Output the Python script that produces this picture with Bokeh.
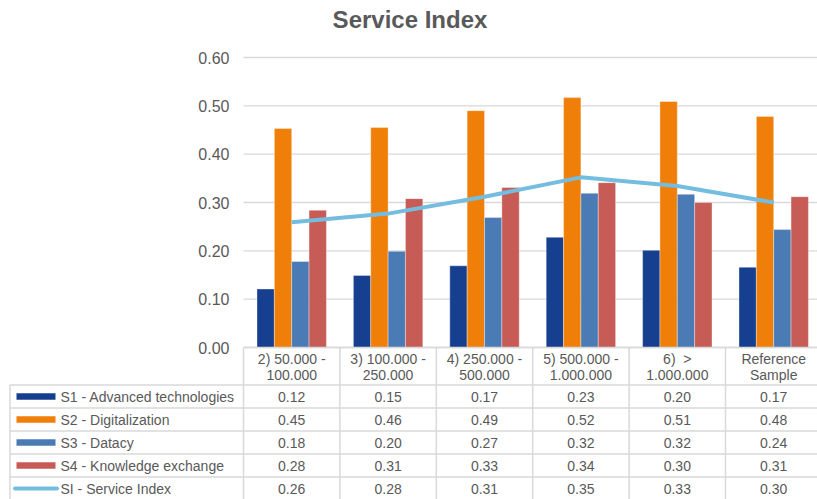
import numpy as np
from bokeh.plotting import figure
from bokeh.models import Range1d, ColumnDataSource
from bokeh.embed import file_html
from bokeh.resources import INLINE
from bokeh.core.properties import value

# ---------------- data ----------------
categories = ["2) 50.000 - 100.000", "3) 100.000 - 250.000", "4) 250.000 - 500.000",
              "5) 500.000 - 1.000.000", "6) > 1.000.000", "Reference Sample"]
category_labels = ["2) 50.000 -\n100.000", "3) 100.000 -\n250.000", "4) 250.000 -\n500.000",
                   "5) 500.000 -\n1.000.000", "6)\u00a0 >\n1.000.000", "Reference\nSample"]
s1 = [0.121, 0.149, 0.169, 0.228, 0.201, 0.166]
s2 = [0.453, 0.455, 0.490, 0.517, 0.509, 0.478]
s3 = [0.178, 0.199, 0.269, 0.319, 0.317, 0.244]
s4 = [0.284, 0.308, 0.331, 0.341, 0.300, 0.312]
si = [0.259, 0.277, 0.312, 0.352, 0.334, 0.300]
series_names = ["S1 - Advanced technologies", "S2 - Digitalization", "S3 - Datacy",
                "S4 - Knowledge exchange", "SI - Service Index"]
y_ticks = [0.0, 0.1, 0.2, 0.3, 0.4, 0.5, 0.6]
y_max = 0.6
title_text = "Service Index"

# ---------------- layout / styles ----------------
W, H = 817, 499
FONT = value("Liberation Sans")
TXT = "#595959"
GRID = "#d9d9d9"
colors = ["#173f8f", "#f07f09", "#4a7bb5", "#c75b55", "#75bddf"]
offsets = [-0.27, -0.09, 0.09, 0.27]
bar_w = 0.18
PL, PT, PB = 243.0, 57.0, 347.0        # plot area left / top / bottom (px)
colw = 96.4                            # px per category
ppu = (PB - PT) / y_max                # px per value unit
HEAD_B = 384.5                         # bottom of header row
row_h = 23

p = figure(width=W, height=H, x_range=Range1d(0, W), y_range=Range1d(H, 0),
           x_axis_type=None, y_axis_type=None, min_border=0, output_backend="svg",
           toolbar_location=None, outline_line_color=None)
p.background_fill_color = "white"
# category / value scales mapped onto the plot area
p.extra_x_ranges = {"cat": Range1d(-PL / colw, (W - PL) / colw)}
p.extra_y_ranges = {"val": Range1d(-(H - PB) / ppu, PB / ppu)}

n = len(categories)
idx = np.arange(n) + 0.5

# title
p.text(x=[409.5], y=[19], text=[title_text], text_font=FONT, text_font_size="24px",
       text_font_style="bold", text_color=TXT, text_align="center", text_baseline="middle")

# gridlines and y tick labels
p.segment(x0=[0] * len(y_ticks), x1=[n] * len(y_ticks), y0=y_ticks, y1=y_ticks,
          x_range_name="cat", y_range_name="val", line_color=GRID, line_width=1.3)
p.text(x=[-14 / colw] * len(y_ticks), y=y_ticks, text=[f"{t:.2f}" for t in y_ticks],
       x_range_name="cat", y_range_name="val", text_font=FONT, text_font_size="16px",
       text_color=TXT, text_align="right", text_baseline="middle")

# bars + line
src = ColumnDataSource(dict(x=idx, s1=s1, s2=s2, s3=s3, s4=s4, si=si))
for k, key in enumerate(["s1", "s2", "s3", "s4"]):
    p.vbar(x=idx + offsets[k], top=[v for v in src.data[key]], bottom=0, width=bar_w,
           x_range_name="cat", y_range_name="val", fill_color=colors[k],
           line_color="white", line_alpha=0.35, line_width=1)
p.line(x="x", y="si", source=src, x_range_name="cat", y_range_name="val",
       line_color=colors[4], line_width=4, line_join="round")

# ---------------- data table ----------------
# header row top border and column separators
p.segment(x0=[0], x1=[n], y0=[PB], y1=[PB], x_range_name="cat",
          line_color=GRID, line_width=1.5)
p.segment(x0=list(range(n + 1)), x1=list(range(n + 1)), y0=[PB] * (n + 1), y1=[H] * (n + 1),
          x_range_name="cat", line_color=GRID, line_width=1.5)
hy = [HEAD_B + k * row_h for k in range(len(series_names))]
p.segment(x0=[9.5] * len(hy), x1=[W] * len(hy), y0=hy, y1=hy, line_color=GRID, line_width=1.5)
p.segment(x0=[9.5], x1=[9.5], y0=[HEAD_B], y1=[H], line_color=GRID, line_width=1.5)

# header labels (two lines)
first = [lab.split("\n")[0] for lab in category_labels]
second = [lab.split("\n")[1] for lab in category_labels]
p.text(x=idx, y=[358] * n, text=first, x_range_name="cat", text_font=FONT,
       text_font_size="14px", text_color=TXT, text_align="center", text_baseline="middle")
p.text(x=idx, y=[374] * n, text=second, x_range_name="cat", text_font=FONT,
       text_font_size="14px", text_color=TXT, text_align="center", text_baseline="middle")

row_c = [HEAD_B + (k + 0.5) * row_h for k in range(len(series_names))]
p.text(x=[60] * len(series_names), y=row_c, text=series_names, text_font=FONT,
       text_font_size="14px", text_color=TXT, text_align="left", text_baseline="middle")
for k in range(4):
    p.quad(left=[16], right=[55], top=[row_c[k] - 3.3], bottom=[row_c[k] + 3.3],
           fill_color=colors[k], line_color=None)
p.line(x=[14.5, 56.5], y=[row_c[4], row_c[4]], line_color=colors[4], line_width=4,
       line_cap="round")

all_series = [s1, s2, s3, s4, si]
vx, vy, vt = [], [], []
for k, ser in enumerate(all_series):
    for i, v in enumerate(ser):
        vx.append(idx[i])
        vy.append(row_c[k])
        vt.append(f"{v:.2f}")
p.text(x=vx, y=vy, text=vt, x_range_name="cat", text_font=FONT, text_font_size="14px",
       text_color=TXT, text_align="center", text_baseline="middle")

open("out.html", "w").write(file_html(p, INLINE))
